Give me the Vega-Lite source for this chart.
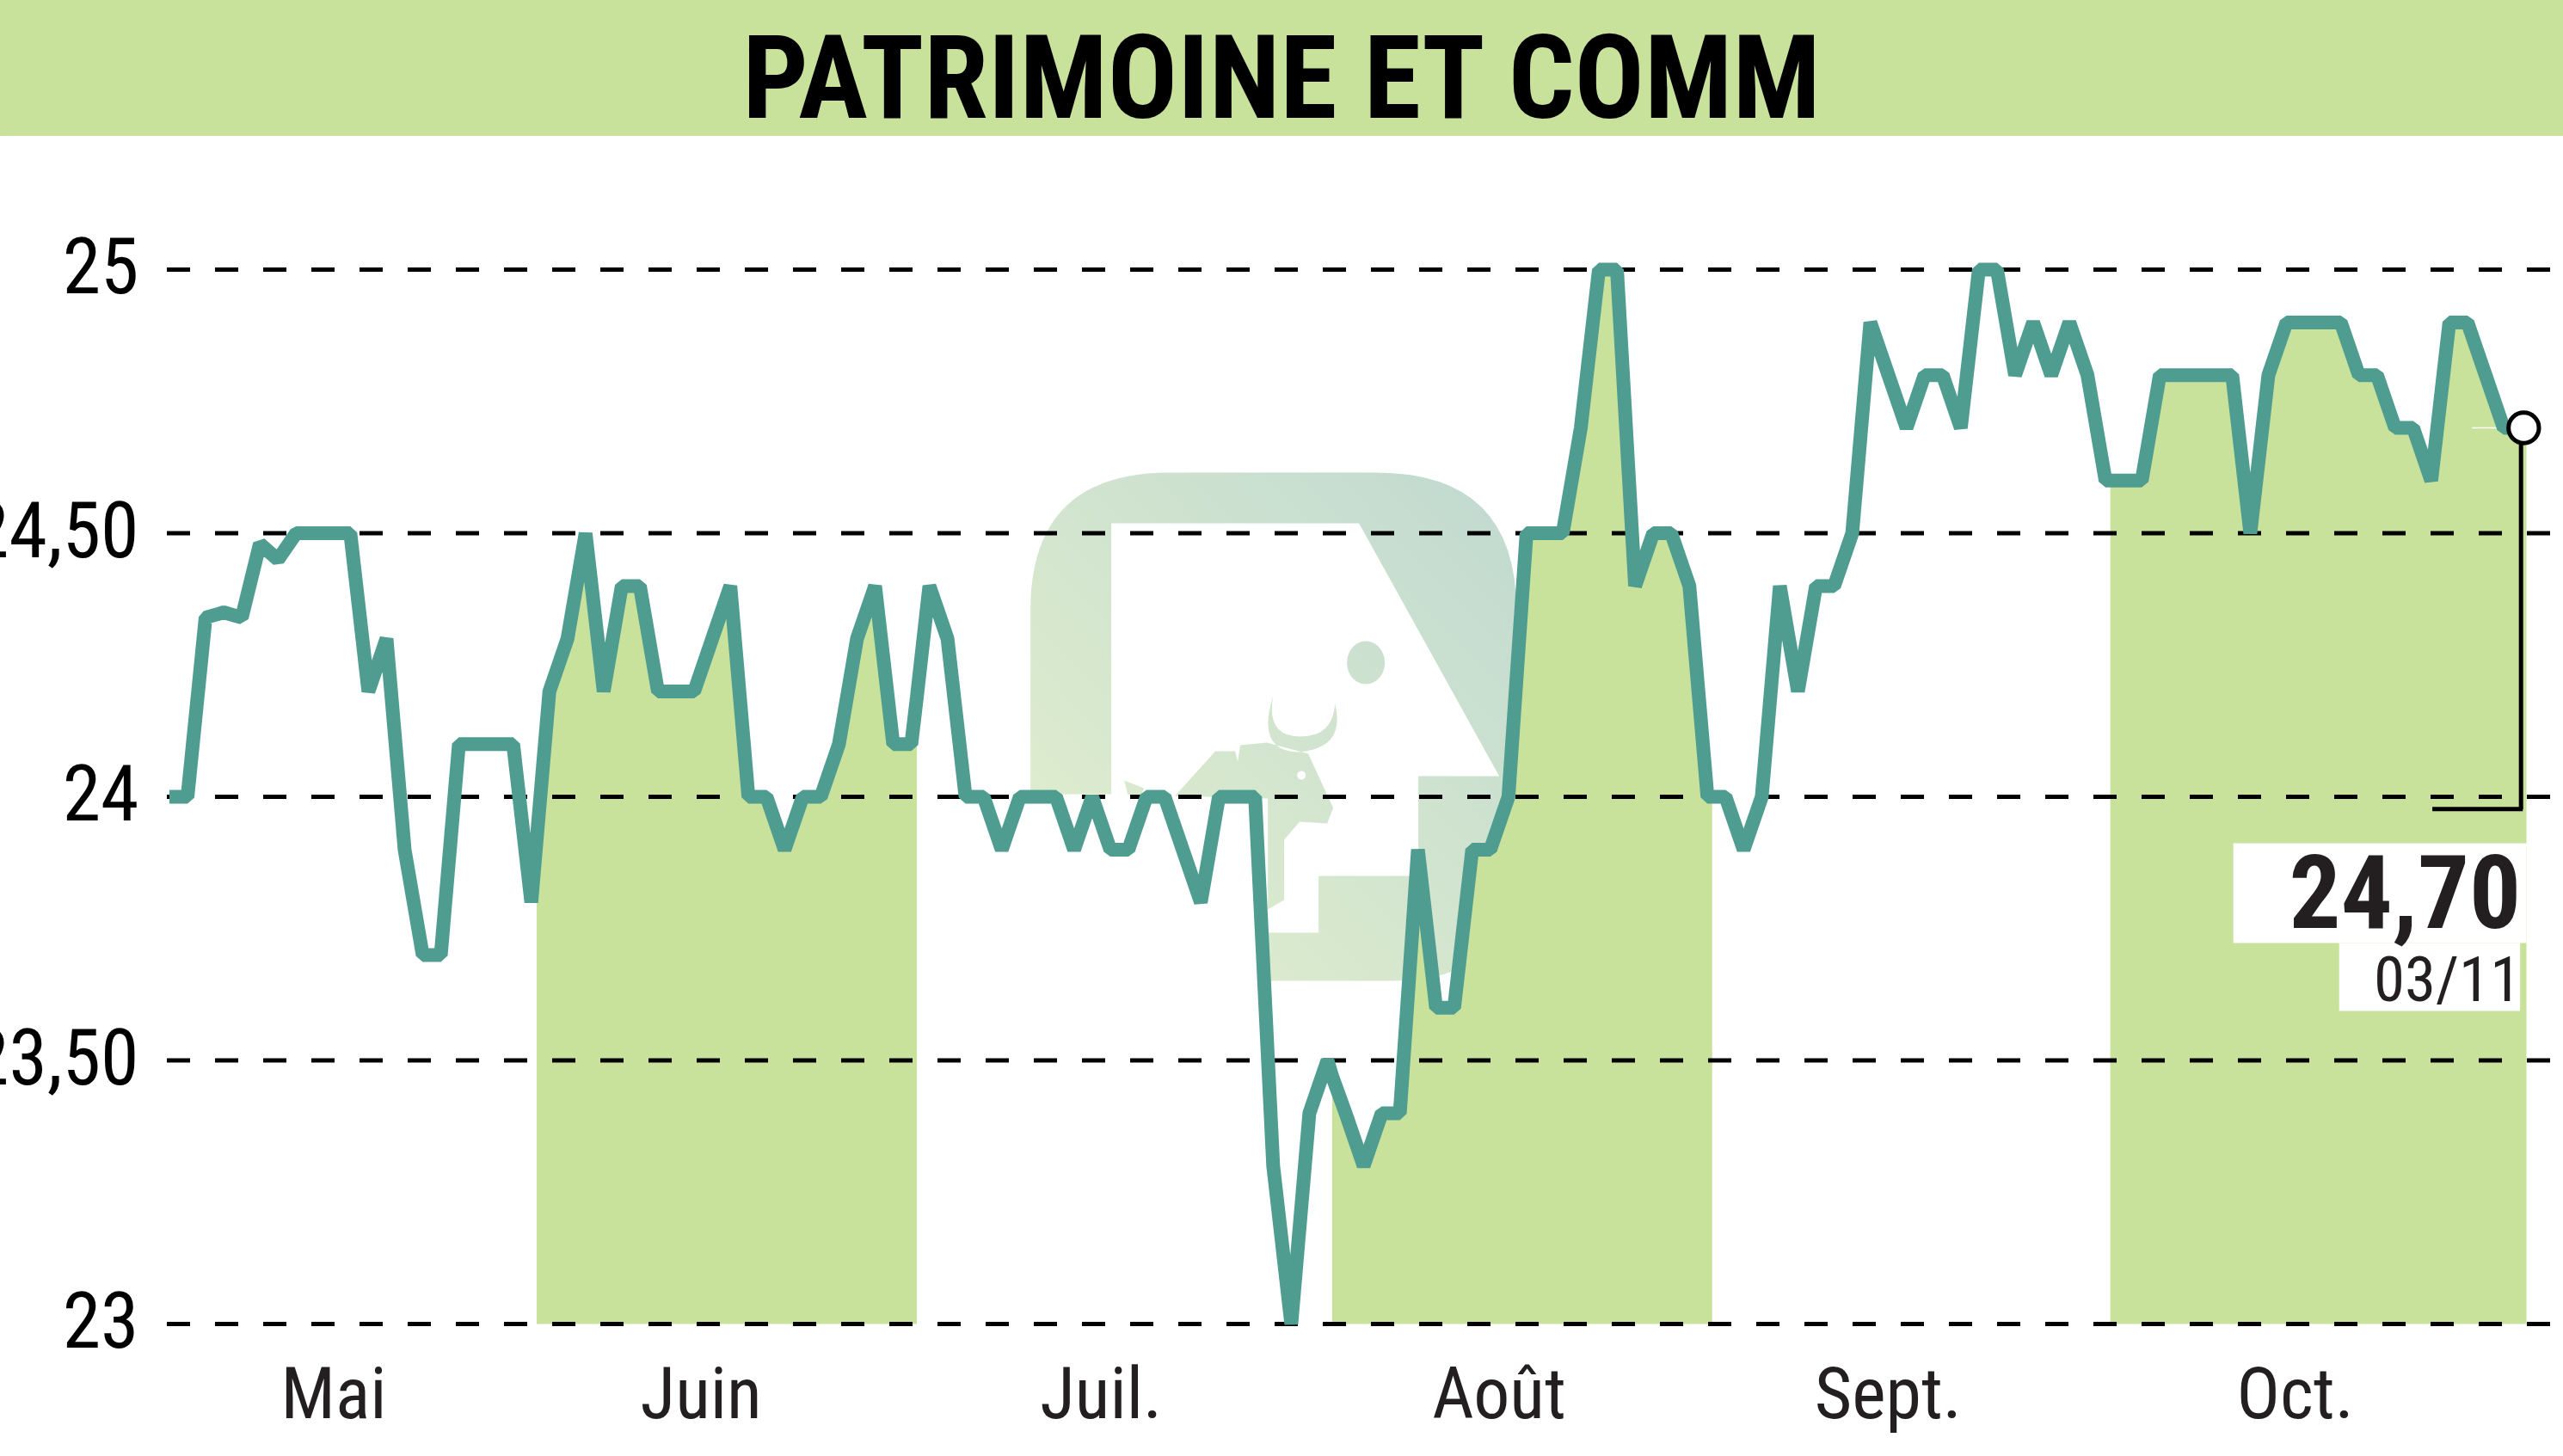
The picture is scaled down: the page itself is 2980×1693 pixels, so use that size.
{
  "$schema": "https://vega.github.io/schema/vega-lite/v6.json",
  "width": 2786,
  "height": 1226,
  "autosize": {"type": "none"},
  "padding": {"left": 194, "top": 313.6, "right": 0, "bottom": 153},
  "background": "white",
  "config": {"view": {"stroke": null}, "font": "Roboto Condensed, DejaVu Sans Condensed, sans-serif"},
  "datasets": {
    "prices": [
      {"session": 0, "price": 24},
      {"session": 1, "price": 24},
      {"session": 2, "price": 24.34},
      {"session": 3, "price": 24.35},
      {"session": 4, "price": 24.34},
      {"session": 5, "price": 24.48},
      {"session": 6, "price": 24.45},
      {"session": 7, "price": 24.5},
      {"session": 8, "price": 24.5},
      {"session": 9, "price": 24.5},
      {"session": 10, "price": 24.5},
      {"session": 11, "price": 24.2},
      {"session": 12, "price": 24.3},
      {"session": 13, "price": 23.9},
      {"session": 14, "price": 23.7},
      {"session": 15, "price": 23.7},
      {"session": 16, "price": 24.1},
      {"session": 17, "price": 24.1},
      {"session": 18, "price": 24.1},
      {"session": 19, "price": 24.1},
      {"session": 20, "price": 23.8},
      {"session": 20.3, "price": 23.92, "band": "Juin"},
      {"session": 21, "price": 24.2, "band": "Juin"},
      {"session": 22, "price": 24.3, "band": "Juin"},
      {"session": 23, "price": 24.5, "band": "Juin"},
      {"session": 24, "price": 24.2, "band": "Juin"},
      {"session": 25, "price": 24.4, "band": "Juin"},
      {"session": 26, "price": 24.4, "band": "Juin"},
      {"session": 27, "price": 24.2, "band": "Juin"},
      {"session": 28, "price": 24.2, "band": "Juin"},
      {"session": 29, "price": 24.2, "band": "Juin"},
      {"session": 30, "price": 24.3, "band": "Juin"},
      {"session": 31, "price": 24.4, "band": "Juin"},
      {"session": 32, "price": 24, "band": "Juin"},
      {"session": 33, "price": 24, "band": "Juin"},
      {"session": 34, "price": 23.9, "band": "Juin"},
      {"session": 35, "price": 24, "band": "Juin"},
      {"session": 36, "price": 24, "band": "Juin"},
      {"session": 37, "price": 24.1, "band": "Juin"},
      {"session": 38, "price": 24.3, "band": "Juin"},
      {"session": 39, "price": 24.4, "band": "Juin"},
      {"session": 40, "price": 24.1, "band": "Juin"},
      {"session": 41, "price": 24.1, "band": "Juin"},
      {"session": 41.31, "price": 24.19, "band": "Juin"},
      {"session": 42, "price": 24.4},
      {"session": 43, "price": 24.3},
      {"session": 44, "price": 24},
      {"session": 45, "price": 24},
      {"session": 46, "price": 23.9},
      {"session": 47, "price": 24},
      {"session": 48, "price": 24},
      {"session": 49, "price": 24},
      {"session": 50, "price": 23.9},
      {"session": 51, "price": 24},
      {"session": 52, "price": 23.9},
      {"session": 53, "price": 23.9},
      {"session": 54, "price": 24},
      {"session": 55, "price": 24},
      {"session": 56, "price": 23.9},
      {"session": 57, "price": 23.8},
      {"session": 58, "price": 24},
      {"session": 59, "price": 24},
      {"session": 60, "price": 24},
      {"session": 61, "price": 23.3},
      {"session": 62, "price": 23},
      {"session": 63, "price": 23.4},
      {"session": 64, "price": 23.5},
      {"session": 64.26, "price": 23.47, "band": "Août"},
      {"session": 65, "price": 23.4, "band": "Août"},
      {"session": 66, "price": 23.3, "band": "Août"},
      {"session": 67, "price": 23.4, "band": "Août"},
      {"session": 68, "price": 23.4, "band": "Août"},
      {"session": 69, "price": 23.9, "band": "Août"},
      {"session": 70, "price": 23.6, "band": "Août"},
      {"session": 71, "price": 23.6, "band": "Août"},
      {"session": 72, "price": 23.9, "band": "Août"},
      {"session": 73, "price": 23.9, "band": "Août"},
      {"session": 74, "price": 24, "band": "Août"},
      {"session": 75, "price": 24.5, "band": "Août"},
      {"session": 76, "price": 24.5, "band": "Août"},
      {"session": 77, "price": 24.5, "band": "Août"},
      {"session": 78, "price": 24.7, "band": "Août"},
      {"session": 79, "price": 25, "band": "Août"},
      {"session": 80, "price": 25, "band": "Août"},
      {"session": 81, "price": 24.4, "band": "Août"},
      {"session": 82, "price": 24.5, "band": "Août"},
      {"session": 83, "price": 24.5, "band": "Août"},
      {"session": 84, "price": 24.4, "band": "Août"},
      {"session": 85, "price": 24, "band": "Août"},
      {"session": 85.26, "price": 24, "band": "Août"},
      {"session": 86, "price": 24},
      {"session": 87, "price": 23.9},
      {"session": 88, "price": 24},
      {"session": 89, "price": 24.4},
      {"session": 90, "price": 24.2},
      {"session": 91, "price": 24.4},
      {"session": 92, "price": 24.4},
      {"session": 93, "price": 24.5},
      {"session": 94, "price": 24.9},
      {"session": 95, "price": 24.8},
      {"session": 96, "price": 24.7},
      {"session": 97, "price": 24.8},
      {"session": 98, "price": 24.8},
      {"session": 99, "price": 24.7},
      {"session": 100, "price": 25},
      {"session": 101, "price": 25},
      {"session": 102, "price": 24.8},
      {"session": 103, "price": 24.9},
      {"session": 104, "price": 24.8},
      {"session": 105, "price": 24.9},
      {"session": 106, "price": 24.8},
      {"session": 107, "price": 24.6},
      {"session": 107.26, "price": 24.6, "band": "Oct."},
      {"session": 108, "price": 24.6, "band": "Oct."},
      {"session": 109, "price": 24.6, "band": "Oct."},
      {"session": 110, "price": 24.8, "band": "Oct."},
      {"session": 111, "price": 24.8, "band": "Oct."},
      {"session": 112, "price": 24.8, "band": "Oct."},
      {"session": 113, "price": 24.8, "band": "Oct."},
      {"session": 114, "price": 24.8, "band": "Oct."},
      {"session": 115, "price": 24.5, "band": "Oct."},
      {"session": 116, "price": 24.8, "band": "Oct."},
      {"session": 117, "price": 24.9, "band": "Oct."},
      {"session": 118, "price": 24.9, "band": "Oct."},
      {"session": 119, "price": 24.9, "band": "Oct."},
      {"session": 120, "price": 24.9, "band": "Oct."},
      {"session": 121, "price": 24.8, "band": "Oct."},
      {"session": 122, "price": 24.8, "band": "Oct."},
      {"session": 123, "price": 24.7, "band": "Oct."},
      {"session": 124, "price": 24.7, "band": "Oct."},
      {"session": 125, "price": 24.6, "band": "Oct."},
      {"session": 126, "price": 24.9, "band": "Oct."},
      {"session": 127, "price": 24.9, "band": "Oct."},
      {"session": 128, "price": 24.8, "band": "Oct."},
      {"session": 129, "price": 24.7, "band": "Oct."},
      {"session": 130, "price": 24.7, "band": "Oct."},
      {"session": 130.26, "price": 24.7, "band": "Oct."}
    ],
    "levels": [
      {"level": 23},
      {"level": 23.5},
      {"level": 24},
      {"level": 24.5},
      {"level": 25}
    ],
    "last": [{"price": 24.7, "label": "24,70", "date": "03/11", "name": "PATRIMOINE ET COMM"}]
  },
  "data": {"name": "prices"},
  "layer": [
    {
      "mark": {
        "type": "point",
        "filled": true,
        "opacity": 1,
        "size": 4,
        "shape": "M-282,79L-282,-135Q-282,-295-120,-295L120,-295Q283,-295 283,-135L283,155Q283,296 140,296L-7,296L-7,240L53,240L53,174L169,174L169,58L263,58L100,-236L-188,-236L-188,79ZM-114,81L-67,29L-44,29L-41,41L-38,22L-7,19L41,32L70,95L63,113L31,111L13,132L13,202L-6,213L-6,84ZM28,57A5,5 0 1 0 38,57A5,5 0 1 0 28,57ZM0,-35Q-20,30 31,30Q85,25 72,-26Q70,12 31,12Q-8,12 0,-35ZM86,-74A22,25 0 1 1 130,-74A22,25 0 1 1 86,-74ZM-173,63L-150,72L-155,84L-169,79Z",
        "fill": {
          "gradient": "linear",
          "x1": 0, "y1": 1, "x2": 1, "y2": 0,
          "stops": [
            {"offset": 0, "color": "#e4f0cd"},
            {"offset": 1, "color": "#c0d9d0"}
          ]
        }
      },
      "data": {"values": [{"logo": "bull"}]},
      "encoding": {
        "x": {
          "datum": 60.99,
          "type": "quantitative",
          "scale": {"domain": [-0.14, 132.28], "nice": false, "zero": false},
          "axis": {
            "title": null,
            "values": [9.06, 29.36, 51.46, 73.46, 94.96, 117.46],
            "labelExpr": "{'9.06':'Mai','29.36':'Juin','51.46':'Juil.','73.46':'Août','94.96':'Sept.','117.46':'Oct.'}[datum.value]",
            "domain": false,
            "ticks": false,
            "grid": false,
            "labelFont": "Roboto Condensed, DejaVu Sans Condensed, sans-serif",
            "labelFontSize": 84,
            "labelColor": "#231f20",
            "labelBaseline": "alphabetic",
            "labelPadding": 109,
            "labelLimit": 500,
            "labelOverlap": false,
            "labelFlush": false,
            "labelBound": false
          }
        },
        "y": {
          "datum": 24.134,
          "type": "quantitative",
          "scale": {"domain": [23, 25], "nice": false, "zero": false},
          "axis": {
            "title": null,
            "values": [23, 23.5, 24, 24.5, 25],
            "labelExpr": "datum.value % 1 ? replace(format(datum.value, '.2f'), '.', ',') : format(datum.value, 'd')",
            "domain": false,
            "ticks": false,
            "grid": false,
            "labelFont": "Roboto Condensed, DejaVu Sans Condensed, sans-serif",
            "labelFontSize": 90,
            "labelColor": "#000000",
            "labelPadding": 33,
            "labelLimit": 500,
            "labelOverlap": false,
            "labelFlush": false,
            "labelBound": false
          }
        }
      }
    },
    {
      "transform": [{"filter": "datum.band"}],
      "mark": {"type": "area", "color": "#c8e29c", "opacity": 1},
      "encoding": {
        "x": {"field": "session", "type": "quantitative"},
        "y": {"field": "price", "type": "quantitative"},
        "y2": {"datum": 23},
        "detail": {"field": "band"}
      }
    },
    {
      "data": {"name": "levels"},
      "mark": {"type": "rule", "color": "#000000", "strokeWidth": 5, "strokeDash": [27, 29]},
      "encoding": {
        "x": {"datum": -0.14, "type": "quantitative"},
        "x2": {"datum": 132.28},
        "y": {"field": "level", "type": "quantitative"}
      }
    },
    {
      "data": {"values": [{"part": "header"}]},
      "mark": {"type": "rect", "color": "#c8e29c", "opacity": 1},
      "encoding": {
        "x": {"datum": -9.36, "type": "quantitative"},
        "x2": {"datum": 132.28},
        "y": {"datum": 25.512, "type": "quantitative"},
        "y2": {"datum": 25.254}
      }
    },
    {
      "data": {"name": "last"},
      "mark": {"type": "text", "align": "center", "baseline": "alphabetic", "font": "Roboto Condensed, DejaVu Sans Condensed, sans-serif", "fontWeight": "bold", "fontSize": 135, "color": "#000000"},
      "encoding": {
        "x": {"datum": 61.46, "type": "quantitative"},
        "y": {"datum": 25.288, "type": "quantitative"},
        "text": {"field": "name"}
      }
    },
    {
      "data": {"name": "last"},
      "mark": {"type": "rule", "color": "#ffffff", "strokeWidth": 1.5},
      "encoding": {
        "x": {"datum": 127.26, "type": "quantitative"},
        "x2": {"datum": 129.36},
        "y": {"field": "price", "type": "quantitative"}
      }
    },
    {
      "mark": {"type": "line", "color": "#4f9c90", "strokeWidth": 16, "strokeJoin": "bevel", "strokeCap": "butt"},
      "encoding": {
        "x": {"field": "session", "type": "quantitative"},
        "y": {"field": "price", "type": "quantitative"},
        "order": {"field": "session"}
      }
    },
    {
      "data": {"name": "last"},
      "mark": {"type": "rule", "color": "#000000", "strokeWidth": 5},
      "encoding": {
        "x": {"datum": 129.96, "type": "quantitative"},
        "y": {"field": "price", "type": "quantitative"},
        "y2": {"datum": 23.977}
      }
    },
    {
      "data": {"name": "last"},
      "mark": {"type": "rule", "color": "#000000", "strokeWidth": 5},
      "encoding": {
        "x": {"datum": 125.06, "type": "quantitative"},
        "x2": {"datum": 130.06},
        "y": {"datum": 23.977, "type": "quantitative"}
      }
    },
    {
      "data": {"name": "last"},
      "mark": {"type": "point", "filled": false, "fill": "#ffffff", "stroke": "#000000", "strokeWidth": 5, "opacity": 1, "size": 1250},
      "encoding": {
        "x": {"datum": 130.11, "type": "quantitative"},
        "y": {"field": "price", "type": "quantitative"}
      }
    },
    {
      "data": {"name": "last"},
      "mark": {"type": "rect", "color": "#ffffff", "opacity": 1},
      "encoding": {
        "x": {"datum": 114.06, "type": "quantitative"},
        "x2": {"datum": 130.26},
        "y": {"datum": 23.912, "type": "quantitative"},
        "y2": {"datum": 23.723}
      }
    },
    {
      "data": {"name": "last"},
      "mark": {"type": "rect", "color": "#ffffff", "opacity": 1},
      "encoding": {
        "x": {"datum": 119.91, "type": "quantitative"},
        "x2": {"datum": 129.91},
        "y": {"datum": 23.723, "type": "quantitative"},
        "y2": {"datum": 23.594}
      }
    },
    {
      "data": {"name": "last"},
      "mark": {"type": "text", "align": "right", "baseline": "alphabetic", "font": "Roboto Condensed, DejaVu Sans Condensed, sans-serif", "fontWeight": "bold", "fontSize": 119, "color": "#231f20"},
      "encoding": {
        "x": {"datum": 129.96, "type": "quantitative"},
        "y": {"datum": 23.752, "type": "quantitative"},
        "text": {"field": "label"}
      }
    },
    {
      "data": {"name": "last"},
      "mark": {"type": "text", "align": "right", "baseline": "alphabetic", "font": "Roboto Condensed, DejaVu Sans Condensed, sans-serif", "fontSize": 73, "color": "#231f20"},
      "encoding": {
        "x": {"datum": 129.96, "type": "quantitative"},
        "y": {"datum": 23.612, "type": "quantitative"},
        "text": {"field": "date"}
      }
    }
  ]
}
